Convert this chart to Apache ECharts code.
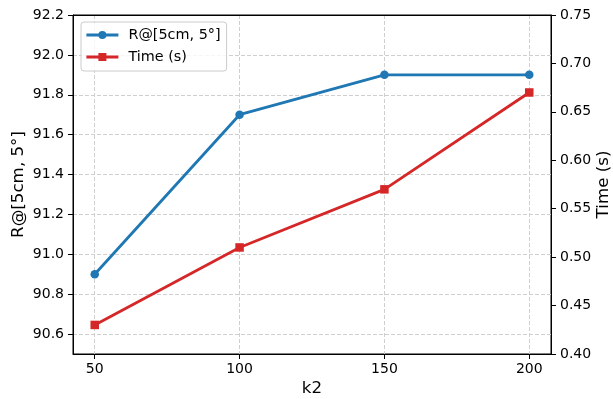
<!DOCTYPE html>
<html>
<head>
<meta charset="utf-8">
<script src="https://cdn.jsdelivr.net/npm/echarts@6/dist/echarts.min.js"></script>
<style>
html,body{margin:0;padding:0;background:#fff;}
#chart{width:613px;height:399px;}
</style>
</head>
<body>
<div id="chart"></div>
<script>
const k2 = [50, 100, 150, 200];
const recall = [90.9, 91.7, 91.9, 91.9];
const timeS = [0.43, 0.51, 0.57, 0.67];
const xTicks = [50, 100, 150, 200];
const leftTicks = [90.6, 90.8, 91.0, 91.2, 91.4, 91.6, 91.8, 92.0, 92.2];

const FONT = 'DejaVu Sans';
const chart = echarts.init(document.getElementById('chart'), null, {renderer: 'canvas'});
const gridLine = {show: true, lineStyle: {color: '#cfcfcf', width: 1, type: [4, 2]}};
chart.setOption({
  animation: false,
  backgroundColor: '#fff',
  grid: {left: 73, right: 62, top: 15, bottom: 45, containLabel: false, outerBoundsMode: 'none',
    show: true, borderColor: '#000', borderWidth: 1, backgroundColor: 'transparent'},
  legend: {
    orient: 'vertical', left: 81, top: 22,
    padding: [6, 6, 7, 4],
    itemWidth: 32, itemHeight: 10, itemGap: 8,
    backgroundColor: 'rgba(255,255,255,0.8)', borderColor: '#cccccc', borderWidth: 1, borderRadius: 3,
    lineStyle: {width: 2.8},
    textStyle: {fontFamily: FONT, fontSize: 14.4, color: '#000', padding: [0, 0, 0, 5]},
    data: ['R@[5cm, 5°]', 'Time (s)']
  },
  xAxis: [{
    type: 'value', min: 42.5, max: 207.5,
    name: 'k2', nameLocation: 'middle', nameGap: 26, nameMoveOverlap: false,
    nameTextStyle: {fontFamily: FONT, fontSize: 16.7, color: '#000'},
    axisLine: {show: true, lineStyle: {color: '#000', width: 1}},
    axisTick: {show: true, length: 5, customValues: xTicks, lineStyle: {color: '#000'}},
    axisLabel: {customValues: xTicks, margin: 8, fontFamily: FONT, fontSize: 14, color: '#000'},
    splitLine: gridLine
  }, {
    type: 'value', min: 42.5, max: 207.5, position: 'top', z: 5,
    axisLine: {show: true, lineStyle: {color: '#000', width: 1}},
    axisTick: {show: false}, axisLabel: {show: false}, splitLine: {show: false}
  }],
  yAxis: [{
    type: 'value', min: 90.5, max: 92.2, position: 'left',
    name: 'R@[5cm, 5°]', nameLocation: 'middle', nameGap: 46, nameMoveOverlap: false,
    nameTextStyle: {fontFamily: FONT, fontSize: 16.7, color: '#000'},
    axisLine: {show: true, lineStyle: {color: '#000', width: 1}},
    axisTick: {show: true, length: 5, customValues: leftTicks, lineStyle: {color: '#000'}},
    axisLabel: {customValues: leftTicks, margin: 9, fontFamily: FONT, fontSize: 14, color: '#000',
      formatter: v => v.toFixed(1)},
    splitLine: gridLine
  }, {
    type: 'value', min: 0.4, max: 0.75, interval: 0.05, position: 'right',
    name: 'Time (s)', nameLocation: 'middle', nameGap: 44, nameMoveOverlap: false,
    nameTextStyle: {fontFamily: FONT, fontSize: 16.7, color: '#000'},
    axisLine: {show: true, lineStyle: {color: '#000', width: 1}},
    axisTick: {show: true, length: 5, lineStyle: {color: '#000'}},
    axisLabel: {margin: 9, fontFamily: FONT, fontSize: 14, color: '#000',
      formatter: v => v.toFixed(2)},
    splitLine: {show: false}
  }],
  series: [{
    name: 'R@[5cm, 5°]', type: 'line', xAxisIndex: 0, yAxisIndex: 0,
    data: k2.map((x, i) => [x, recall[i]]),
    symbol: 'circle', symbolSize: 8.5,
    lineStyle: {color: '#1f77b4', width: 2.8},
    itemStyle: {color: '#1f77b4'}
  }, {
    name: 'Time (s)', type: 'line', xAxisIndex: 0, yAxisIndex: 1,
    data: k2.map((x, i) => [x, timeS[i]]),
    symbol: 'rect', symbolSize: 8.5,
    lineStyle: {color: '#d62728', width: 2.8},
    itemStyle: {color: '#d62728'}
  }]
});
</script>
</body>
</html>
